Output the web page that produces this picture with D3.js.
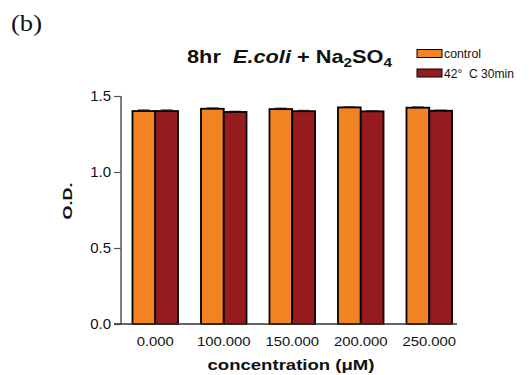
<!DOCTYPE html>
<html>
<head>
<meta charset="utf-8">
<script src="https://cdn.jsdelivr.net/npm/d3@7"></script>
<style>
  html, body { margin: 0; padding: 0; background: #fff; }
  svg { display: block; }
  text { fill: #111; white-space: pre; }
</style>
</head>
<body>
<script>
// Optical density after 8 hr, by Na2SO4 concentration
const categories = ["0.000", "100.000", "150.000", "200.000", "250.000"];
const seriesNames = ["control", "42°  C 30min"];
const controlValues = [1.401, 1.416, 1.414, 1.425, 1.423];
const heatValues = [1.401, 1.395, 1.400, 1.399, 1.403];
const controlErrors = [0.008, 0.006, 0.006, 0.004, 0.006];
const heatErrors = [0.008, 0.004, 0.005, 0.004, 0.004];
const yTicks = [0.0, 0.5, 1.0, 1.5];
const colors = ["#F28322", "#961B1F"];

const SANS = "Arial, 'Liberation Sans', sans-serif";
const SERIF = "'Times New Roman', 'Liberation Serif', serif";
const W = 529, H = 375;
const svg = d3.select("body").append("svg").attr("width", W).attr("height", H)
  .style("font-family", SANS);

const x0 = 121, x1 = 463.5, yTop = 96, yBottom = 324;

const x = d3.scaleBand().domain(categories).range([x0, x1])
  .paddingInner(0.335).paddingOuter(0.1675);
const xs = d3.scaleBand().domain(seriesNames).range([0, x.bandwidth()]);
const y = d3.scaleLinear().domain([0, 1.5]).range([yBottom, yTop]);

// stretch text horizontally by a factor (the figure's lettering is slightly wide)
function widen(sel, k) {
  sel.each(function() {
    const w = this.getComputedTextLength();
    d3.select(this).attr("textLength", w * k).attr("lengthAdjust", "spacingAndGlyphs");
  });
}

const rows = categories.map((c, i) => ({
  cat: c,
  vals: [
    { s: seriesNames[0], v: controlValues[i], e: controlErrors[i], col: colors[0] },
    { s: seriesNames[1], v: heatValues[i], e: heatErrors[i], col: colors[1] }
  ]
}));

const groups = svg.append("g").selectAll("g").data(rows).join("g")
  .attr("transform", d => `translate(${x(d.cat)},0)`);

// error bars (upper half, behind the bars)
groups.selectAll("g.err").data(d => d.vals).join("g").attr("class", "err")
  .each(function(d) {
    const g = d3.select(this);
    const cx = xs(d.s) + xs.bandwidth() / 2;
    g.append("line").attr("x1", cx).attr("x2", cx)
      .attr("y1", y(d.v)).attr("y2", y(d.v + d.e))
      .attr("stroke", "#555").attr("stroke-width", 1);
    g.append("line").attr("x1", cx - 6).attr("x2", cx + 6)
      .attr("y1", y(d.v + d.e)).attr("y2", y(d.v + d.e))
      .attr("stroke", "#777").attr("stroke-width", 1.5);
  });

groups.selectAll("rect").data(d => d.vals).join("rect")
  .attr("x", d => xs(d.s))
  .attr("width", xs.bandwidth())
  .attr("y", d => y(d.v))
  .attr("height", d => y(0) - y(d.v))
  .attr("fill", d => d.col)
  .attr("stroke", "#000")
  .attr("stroke-width", 1.8);

// y axis
const yAxis = d3.axisLeft(y).tickValues(yTicks).tickFormat(d3.format(".1f"))
  .tickSizeOuter(0).tickSize(7).tickPadding(3);
const gy = svg.append("g").attr("transform", `translate(${x0},0)`).call(yAxis);
gy.select(".domain").attr("stroke", "#555").attr("stroke-width", 1.5)
  .attr("d", `M0,${yBottom}V${yTop}`);
gy.selectAll(".tick line").attr("stroke", "#555").attr("stroke-width", 1.2);
gy.selectAll(".tick text").attr("font-size", 14).attr("fill", "#222")
  .style("font-family", SANS).call(widen, 1.07);

// x axis baseline
svg.append("line").attr("x1", 114).attr("x2", 457)
  .attr("y1", yBottom).attr("y2", yBottom)
  .attr("stroke", "#333").attr("stroke-width", 1.5);

// x tick labels
svg.append("g").selectAll("text").data(categories).join("text")
  .attr("x", d => x(d) + x.bandwidth() / 2)
  .attr("y", 346)
  .attr("text-anchor", "middle")
  .attr("font-size", 13.5)
  .attr("fill", "#222")
  .text(d => d)
  .call(widen, 1.1);

// axis titles
svg.append("text").attr("x", 291).attr("y", 370).attr("text-anchor", "middle")
  .attr("font-size", 15).attr("font-weight", "bold")
  .attr("textLength", 167).attr("lengthAdjust", "spacingAndGlyphs")
  .text("concentration (μM)");

svg.append("text")
  .attr("transform", "translate(71.5,201) rotate(-90)")
  .attr("text-anchor", "middle")
  .attr("font-size", 13.5).attr("font-weight", "bold")
  .attr("textLength", 37).attr("lengthAdjust", "spacingAndGlyphs")
  .text("O.D.");

// panel letter
svg.append("text").attr("x", 11).attr("y", 31)
  .style("font-family", SERIF)
  .attr("font-size", 23)
  .attr("textLength", 31).attr("lengthAdjust", "spacingAndGlyphs")
  .text("(b)");

// chart title
const title = svg.append("text").attr("x", 187).attr("y", 63)
  .attr("font-size", 18.5).attr("font-weight", "bold")
  .attr("textLength", 205).attr("lengthAdjust", "spacingAndGlyphs");
title.append("tspan").text("8hr  ");
title.append("tspan").attr("font-style", "italic").text("E.coli");
title.append("tspan").text(" + Na");
title.append("tspan").attr("font-size", 13).attr("dy", 4).text("2");
title.append("tspan").attr("dy", -4).text("SO");
title.append("tspan").attr("font-size", 13).attr("dy", 4).text("4");

// legend
const legend = svg.append("g").selectAll("g").data(seriesNames).join("g")
  .attr("transform", (d, i) => `translate(417,${49.5 + i * 19.5})`);
legend.append("rect").attr("width", 25).attr("height", 8)
  .attr("fill", (d, i) => colors[i]).attr("stroke", "#000").attr("stroke-width", 1);
legend.append("text").attr("x", 27).attr("y", 8.5)
  .attr("font-size", 12)
  .attr("textLength", (d, i) => i === 0 ? 37 : 70)
  .attr("lengthAdjust", "spacingAndGlyphs")
  .text(d => d);
</script>
</body>
</html>
